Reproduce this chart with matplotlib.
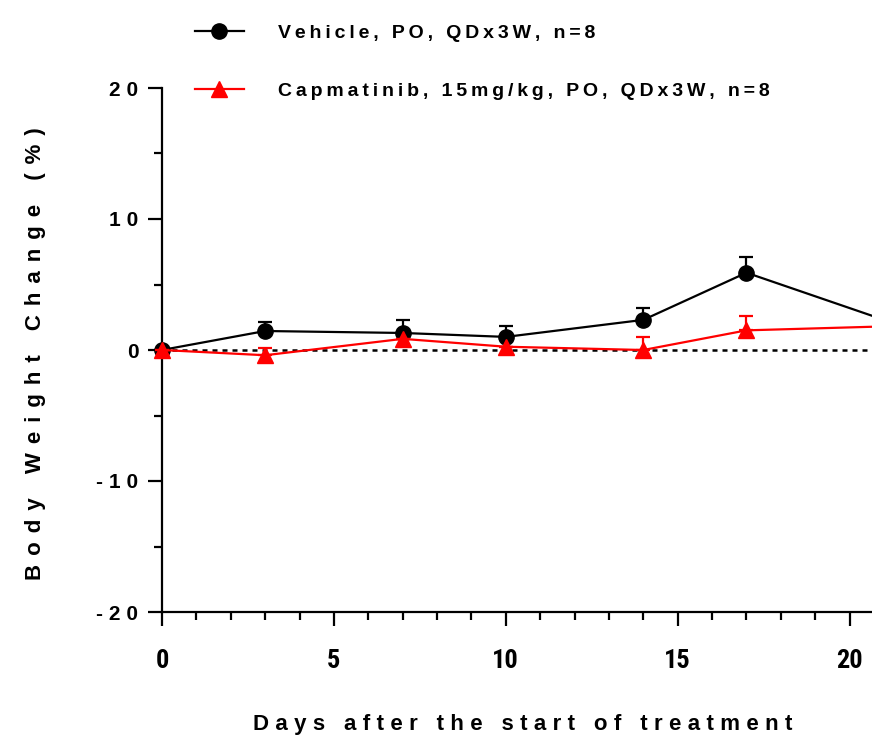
import numpy as np
import matplotlib
matplotlib.use('Agg')
import matplotlib.pyplot as plt
from matplotlib import font_manager
from matplotlib.lines import Line2D

# body weight change (%) vs day, mean and upper SEM
days = [0, 3, 7, 10, 14, 17, 21]
vehicle_mean = [0.0, 1.45, 1.3, 1.0, 2.3, 5.9, 2.3]
vehicle_sem = [0.0, 0.7, 1.0, 0.85, 0.9, 1.2, 0.8]
capma_mean = [0.0, -0.4, 0.85, 0.25, 0.0, 1.5, 1.8]
capma_sem = [0.0, 0.55, 0.0, 0.0, 1.0, 1.1, 0.9]

labels = ['Vehicle, PO, QDx3W, n=8', 'Capmatinib, 15mg/kg, PO, QDx3W, n=8']
xticks = [0, 5, 10, 15, 20]
yticks = [-20, -10, 0, 10, 20]

names = set(f.name for f in font_manager.fontManager.ttflist)
fam = ['Liberation Sans', 'DejaVu Sans']
narrow = fam
for n in ['Liberation Sans Narrow', 'DejaVu Sans Condensed', 'Roboto Condensed']:
    if n in names:
        narrow = [n, 'DejaVu Sans']
        break

def spaced(s, sp='\u2009'):
    return sp.join(s)

fig = plt.figure(figsize=(8.72, 7.37), dpi=100)
ax = fig.add_axes([162/872, 125/737, 722/872, 524/737])

ax.axhline(0, color='black', lw=1.8, ls=(0, (2, 2)), zorder=1)

ax.errorbar(days, vehicle_mean, yerr=[np.zeros(len(days)), vehicle_sem], color='black',
            lw=1.6, marker='o', ms=11, capsize=5, capthick=1.6, elinewidth=1.6,
            clip_on=False, zorder=3)
ax.errorbar(days, capma_mean, yerr=[np.zeros(len(days)), capma_sem], color='#ff0000',
            lw=1.6, marker='^', ms=11, capsize=5, capthick=1.6, elinewidth=1.6,
            clip_on=False, zorder=4)

ax.set_xlim(0, 21)
ax.set_ylim(-20, 20)
ax.spines['top'].set_visible(False)
ax.spines['right'].set_visible(False)
for s in ['left', 'bottom']:
    ax.spines[s].set_linewidth(1.6)

ax.set_xticks(xticks)
ax.set_xticks(np.arange(0, 22, 1), minor=True)
ax.set_yticks(yticks)
ax.set_yticks([-15, -5, 5, 15], minor=True)
ax.set_xticklabels([str(t) for t in xticks], fontfamily=narrow, fontweight='bold', fontsize=19)
ax.set_yticklabels([spaced(str(t), '\u2009\u200a') for t in yticks], fontfamily=fam,
                   fontweight='bold', fontsize=15)
ax.tick_params(which='major', length=10, width=1.6)
ax.tick_params(which='minor', length=5.5, width=1.6)
ax.tick_params(axis='x', which='major', pad=17)
ax.tick_params(axis='y', which='major', pad=7)

ax.set_xlabel(spaced('Days after the start of treatment', '\u2009\u200a'), fontfamily=fam,
              fontweight='bold', fontsize=16, labelpad=29)
fig.text(36/872, 1 - 354/737, spaced('Body Weight Change (%)', '\u2009\u2009'), rotation=90,
         fontfamily=fam, fontweight='bold', fontsize=16, ha='center', va='center')

handles = [Line2D([], [], color='black', lw=1.6, marker='o', ms=11),
           Line2D([], [], color='#ff0000', lw=1.6, marker='^', ms=11)]
ax.legend(handles, [spaced(l) for l in labels], loc='upper left',
          bbox_to_anchor=(195/872, 1 - 24/737), bbox_transform=fig.transFigure,
          frameon=False, prop={'family': fam, 'weight': 'bold', 'size': 14},
          handlelength=2.5, handletextpad=1.75, labelspacing=2.1,
          borderaxespad=0, borderpad=0)

fig.savefig('out.png', dpi=100)
